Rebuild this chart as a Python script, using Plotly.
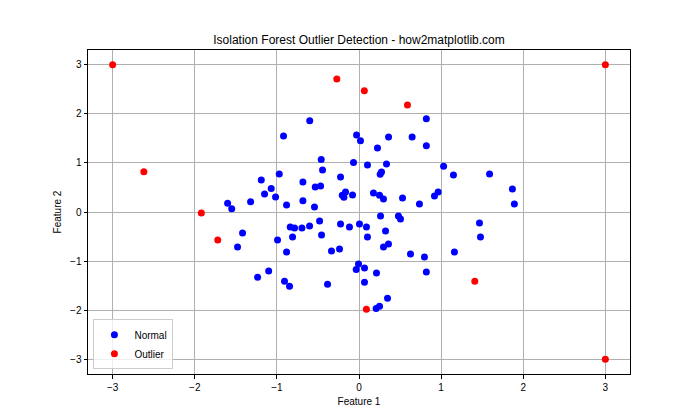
import plotly.graph_objects as go

normal_x = [-0.919, -0.971, -1.19, -1.069, -1.15, -1.016, -0.683, -0.683, -0.882, -1.32,
            -1.60, -1.55, -0.60, -0.03, 0.018, 0.36, 0.647, 0.225, -0.46, -0.444,
            -0.067, 0.103, 0.335, 0.274, 0.258, -0.225, -0.533, -0.468, -0.164, -0.204,
            -0.184, -0.079, 0.176, 0.25, 0.298, 0.53, -0.542, 0.82, 0.82, 1.03,
            1.15, 1.59, 1.868, 1.892, 0.964, 0.919, 0.736, -1.418, -1.479, -0.992,
            -0.837, -0.785, -0.695, -0.809, -0.882, -1.10, -1.235, -0.907, -0.846, -0.602,
            -0.48, -0.456, -0.225, -0.116, 0.006, 0.091, 0.103, 0.262, 0.48, 0.505,
            0.323, 0.359, 0.298, 0.627, -0.335, -0.237, -0.006, -0.034, 0.067, 0.213,
            -0.383, 0.067, 0.347, 0.209, 0.25, 1.467, 1.479, 1.162, 0.797, 0.82]
normal_y = [1.55, 0.776, 0.653, 0.48, 0.367, 0.306, 0.612, 0.23, 0.143, 0.21,
            0.18, 0.067, 1.857, 1.57, 1.449, 1.53, 1.53, 1.306, 1.067, 0.857,
            1.006, 0.959, 0.98, 0.816, 0.768, 0.714, 0.51, 0.53, 0.408, 0.339,
            0.298, 0.347, 0.388, 0.339, 0.265, 0.286, 0.10, 1.90, 1.347, 0.93,
            0.755, 0.776, 0.469, 0.163, 0.408, 0.327, 0.163, -0.43, -0.714, -0.571,
            -0.306, -0.327, -0.327, -0.51, -0.816, -1.20, -1.327, -1.41, -1.51, -0.286,
            -0.184, -0.47, -0.245, -0.306, -0.245, -0.306, -0.51, -0.082, -0.082, -0.143,
            -0.388, -0.653, -0.714, -0.857, -0.796, -0.755, -1.06, -1.17, -1.143, -1.245,
            -1.47, -1.43, -1.755, -1.967, -1.92, -0.224, -0.51, -0.816, -0.918, -1.224]

outlier_x = [-3.0, 3.0, 3.0, -2.62, -1.92, -1.72, -0.27, 0.065, 0.59, 0.09, 1.41]
outlier_y = [3.0, 3.0, -3.0, 0.82, -0.02, -0.57, 2.71, 2.47, 2.18, -1.98, -1.41]

tick_vals = [-3, -2, -1, 0, 1, 2, 3]

fig = go.Figure()
fig.add_trace(go.Scatter(x=normal_x, y=normal_y, mode="markers", name="Normal",
                         marker=dict(color="#0000ff", size=7, line=dict(width=0))))
fig.add_trace(go.Scatter(x=outlier_x, y=outlier_y, mode="markers", name="Outlier",
                         marker=dict(color="#ff0000", size=7, line=dict(width=0))))

axis_common = dict(range=[-3.3, 3.3], tickvals=tick_vals, showgrid=True,
                   gridcolor="#b0b0b0", gridwidth=1, zeroline=False,
                   showline=True, linecolor="#000000", linewidth=1, mirror=True,
                   ticks="outside", ticklen=3.5, tickwidth=1, tickcolor="#000000",
                   tickfont=dict(size=10, color="#000000"), layer="above traces")

fig.update_layout(
    width=700, height=420,
    margin=dict(l=88, r=70, t=50, b=46),
    paper_bgcolor="white", plot_bgcolor="white",
    font=dict(family="Liberation Sans, DejaVu Sans, sans-serif", color="#000000"),
    title=dict(text="Isolation Forest Outlier Detection - how2matplotlib.com",
               x=359 / 700, xanchor="center", y=1 - 40 / 420, yanchor="middle",
               font=dict(size=12)),
    xaxis=dict(**axis_common, title=dict(text="Feature 1", font=dict(size=10), standoff=6)),
    yaxis=dict(**axis_common, title=dict(text="Feature 2", font=dict(size=10), standoff=6)),
    legend=dict(x=0.01, y=0.015, xanchor="left", yanchor="bottom",
                bgcolor="rgba(255,255,255,0.8)", bordercolor="#cccccc", borderwidth=1,
                font=dict(size=10), tracegroupgap=0, itemwidth=30),
    showlegend=True,
)

fig.write_html("out.html")
